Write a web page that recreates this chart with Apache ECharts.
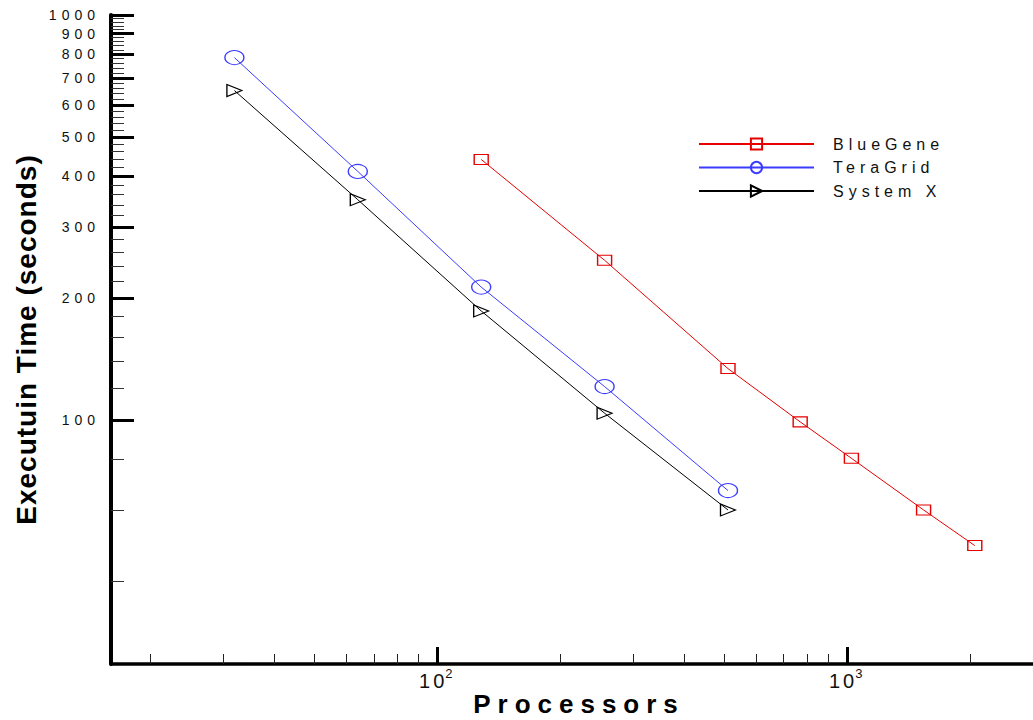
<!DOCTYPE html>
<html>
<head>
<meta charset="utf-8">
<script src="https://cdn.jsdelivr.net/npm/echarts@6/dist/echarts.min.js"></script>
<style>
  html, body { margin: 0; padding: 0; background: #fff; }
  #chart { width: 1033px; height: 720px; }
</style>
</head>
<body>
<div id="chart"></div>
<script>
// Series names and measured run times (seconds) against processor count
const seriesNames = ['BlueGene', 'TeraGrid', 'System X'];
const blueGeneProcs = [128, 256, 512, 768, 1024, 1536, 2048];
const blueGeneTime = [440, 248, 134, 99, 80.5, 60, 49];
const teraGridProcs = [32, 64, 128, 256, 512];
const teraGridTime = [785, 411, 213, 121, 67];
const systemXProcs = [32, 64, 128, 256, 512];
const systemXTime = [651, 350, 186, 104, 60];

// Tick positions
const yMajorTicks = [100, 200, 300, 400, 500, 600, 700, 800, 900, 1000];
const yMinorTicks = [40, 60, 80, 120, 140, 160, 180, 220, 240, 260, 280,
  320, 340, 360, 380, 420, 440, 460, 480, 520, 540, 560, 580, 620, 640, 660, 680,
  720, 740, 760, 780, 820, 840, 860, 880, 920, 940, 960, 980];
const xMajorTicks = [100, 1000];
const xMinorTicks = [20, 30, 40, 50, 60, 70, 80, 90, 200, 300, 400, 500, 600, 700, 800, 900, 2000];

const xRange = [16, 2840];
const yRange = [25, 1000];

const FONT = 'Liberation Sans, Arial, Helvetica, sans-serif';

function pairs(xs, ys) { return xs.map((x, i) => [x, ys[i]]); }

const chart = echarts.init(document.getElementById('chart'), null, { renderer: 'svg' });

const baseX = { type: 'log', logBase: 10, min: xRange[0], max: xRange[1], position: 'bottom', splitLine: { show: false } };
const baseY = { type: 'log', logBase: 10, min: yRange[0], max: yRange[1], position: 'left', splitLine: { show: false } };

const rightTriangle = 'path://M0,0 L10,5 L0,10 Z';

const option = {
  animation: false,
  backgroundColor: '#fff',
  grid: { left: 111, right: 0, top: 15, bottom: 56, containLabel: false, outerBoundsMode: 'none' },
  xAxis: [
    Object.assign({}, baseX, {
      name: 'Processors',
      nameLocation: 'middle',
      nameGap: 27,
      nameMoveOverlap: false,
      nameTextStyle: { fontFamily: FONT, fontSize: 26, fontWeight: 'bold', color: '#000', lineHeight: 26, padding: [0, 0, 0, 14] },
      axisLine: { show: true, lineStyle: { color: '#000', width: 3.5 } },
      axisTick: { show: true, inside: true, length: 17, lineStyle: { color: '#000', width: 3 }, customValues: xMajorTicks },
      axisLabel: {
        show: true, margin: 3, customValues: xMajorTicks,
        formatter: v => '{b|10}{s|' + Math.round(Math.log10(v)) + '}',
        rich: {
          b: { fontFamily: FONT, fontSize: 20, color: '#111', lineHeight: 24, verticalAlign: 'bottom' },
          s: { fontFamily: FONT, fontSize: 13, color: '#111', lineHeight: 24, verticalAlign: 'top', padding: [0, 0, 0, 1] }
        }
      }
    }),
    Object.assign({}, baseX, {
      axisLine: { show: false },
      axisTick: { show: true, inside: true, length: 10, lineStyle: { color: '#222', width: 1 }, customValues: xMinorTicks },
      axisLabel: { show: false }
    })
  ],
  yAxis: [
    Object.assign({}, baseY, {
      name: 'Executuin Time (seconds)',
      nameLocation: 'middle',
      nameGap: 71,
      nameMoveOverlap: false,
      nameTextStyle: { fontFamily: FONT, fontSize: 28, fontWeight: 'bold', color: '#000' },
      axisLine: { show: true, lineStyle: { color: '#000', width: 4 } },
      axisTick: { show: true, inside: true, length: 23, lineStyle: { color: '#000', width: 3 }, customValues: yMajorTicks },
      axisLabel: {
        show: true, margin: 11, customValues: yMajorTicks,
        formatter: v => String(Math.round(v)),
        fontFamily: FONT, fontSize: 14, color: '#111'
      }
    }),
    Object.assign({}, baseY, {
      axisLine: { show: false },
      axisTick: { show: true, inside: true, length: 13, lineStyle: { color: '#333', width: 1 }, customValues: yMinorTicks },
      axisLabel: { show: false }
    })
  ],
  legend: {
    left: 693, top: 131, orient: 'vertical',
    itemWidth: 115, itemHeight: 14, itemGap: 7.5,
    data: seriesNames,
    textStyle: { fontFamily: FONT, fontSize: 16, color: '#111', padding: [0, 0, 0, 14] }
  },
  series: [
    {
      name: seriesNames[0], type: 'line', xAxisIndex: 0, yAxisIndex: 0,
      data: pairs(blueGeneProcs, blueGeneTime),
      symbol: 'rect', symbolSize: [14, 10],
      lineStyle: { color: '#e60000', width: 1 },
      itemStyle: { color: 'rgba(255,255,255,0)', borderColor: '#e60000', borderWidth: 1.2 }
    },
    {
      name: seriesNames[1], type: 'line', xAxisIndex: 0, yAxisIndex: 0,
      data: pairs(teraGridProcs, teraGridTime),
      symbol: 'circle', symbolSize: [19, 14],
      lineStyle: { color: '#3c3cff', width: 1 },
      itemStyle: { color: 'rgba(255,255,255,0)', borderColor: '#3c3cff', borderWidth: 1.2 }
    },
    {
      name: seriesNames[2], type: 'line', xAxisIndex: 0, yAxisIndex: 0,
      data: pairs(systemXProcs, systemXTime),
      symbol: rightTriangle, symbolSize: [15, 12],
      lineStyle: { color: '#000', width: 1 },
      itemStyle: { color: 'rgba(255,255,255,0)', borderColor: '#000', borderWidth: 1.2 }
    }
  ]
};

chart.setOption(option);

// Wide character spacing for the lettering, keyed by font size
const spacingBySize = { 14: 5, 16: 5, 20: 3, 26: 7, 28: 1 };
function applySpacing() {
  document.querySelectorAll('#chart svg text').forEach(t => {
    const size = Math.round(parseFloat(getComputedStyle(t).fontSize));
    if (spacingBySize[size] !== undefined) t.style.letterSpacing = spacingBySize[size] + 'px';
  });
}
chart.on('finished', applySpacing);
applySpacing();
setTimeout(applySpacing, 50);
</script>
</body>
</html>
